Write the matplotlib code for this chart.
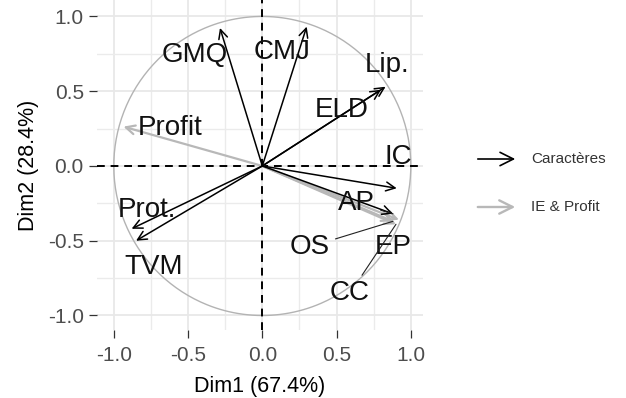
import matplotlib.pyplot as plt
import numpy as np

plt.rcParams['font.family'] = ['Liberation Sans', 'DejaVu Sans']

# variable coordinates on Dim1 / Dim2
names = ['GMQ', 'CMJ', 'Lip.', 'ELD', 'IC', 'AP', 'Prot.', 'TVM',
         'Profit', 'OS', 'EP', 'CC']
dim1 = [-0.285, 0.299, 0.83, 0.80, 0.905, 0.88, -0.88, -0.85,
        -0.935, 0.88, 0.92, 0.90]
dim2 = [0.923, 0.932, 0.53, 0.51, -0.149, -0.32, -0.42, -0.50,
        0.263, -0.37, -0.36, -0.39]
group = ['Caractères'] * 8 + ['IE & Profit'] * 4

# repelled label positions
lab_x = [-0.452, 0.13, 0.838, 0.535, 0.916, 0.636, -0.778, -0.734,
         -0.622, 0.321, 0.883, 0.59]
lab_y = [0.742, 0.765, 0.676, 0.375, 0.062, -0.25, -0.294, -0.674,
         0.252, -0.54, -0.54, -0.852]
with_segment = ['AP', 'OS', 'CC']

colors = {'Caractères': 'black', 'IE & Profit': '#b8b8b8'}
widths = {'Caractères': 1.1, 'IE & Profit': 1.6}

fig = plt.figure(figsize=(6.26, 3.98), dpi=100)
ax = fig.add_axes([97 / 626, 68 / 398, 326 / 626, 330 / 398])
ax.set_xlim(-1.113, 1.082)
ax.set_ylim(-1.097, 1.110)

ax.set_xticks([-1.0, -0.5, 0.0, 0.5, 1.0])
ax.set_yticks([-1.0, -0.5, 0.0, 0.5, 1.0])
ax.set_xticks([-0.75, -0.25, 0.25, 0.75], minor=True)
ax.set_yticks([-0.75, -0.25, 0.25, 0.75], minor=True)
ax.set_xticklabels(['-1.0', '-0.5', '0.0', '0.5', '1.0'])
ax.set_yticklabels(['-1.0', '-0.5', '0.0', '0.5', '1.0'])
ax.grid(which='major', color='#e8e8e8', lw=1.3)
ax.grid(which='minor', color='#ebebeb', lw=1.0)
ax.set_axisbelow(True)
for s in ax.spines.values():
    s.set_visible(False)
ax.tick_params(which='major', length=5.5, width=0.9, color='#333333',
               labelsize=15, labelcolor='#4d4d4d')
ax.tick_params(axis='x', pad=6)
ax.tick_params(axis='y', pad=4)
ax.tick_params(which='minor', length=0)

ax.set_xlabel('Dim1 (67.4%)', fontsize=15.5, labelpad=8)
ax.set_ylabel('Dim2 (28.4%)', fontsize=15.5, labelpad=6)

# correlation circle and axes
t = np.linspace(0, 2 * np.pi, 400)
ax.plot(np.cos(t), np.sin(t), color='#b3b3b3', lw=1.0, zorder=1)
ax.axhline(0, color='black', lw=1.4, ls=(0, (4, 3)), zorder=2)
ax.axvline(0, color='black', lw=1.4, ls=(0, (4, 3)), zorder=2)

order = [i for i in range(len(names)) if group[i] == 'IE & Profit'] + \
        [i for i in range(len(names)) if group[i] == 'Caractères']
for i in order:
    g = group[i]
    ax.annotate('', xy=(dim1[i], dim2[i]), xytext=(0, 0),
                arrowprops=dict(arrowstyle='->,head_length=0.65,head_width=0.32',
                                color=colors[g], lw=widths[g],
                                shrinkA=0, shrinkB=0),
                zorder=3)

for i in range(len(names)):
    if names[i] in with_segment:
        ax.annotate(names[i], xy=(dim1[i], dim2[i]), xytext=(lab_x[i], lab_y[i]),
                    ha='center', va='center', fontsize=20, color='#111111',
                    arrowprops=dict(arrowstyle='-', color='#222222', lw=0.8,
                                    shrinkA=2, shrinkB=0),
                    zorder=4)
    else:
        ax.text(lab_x[i], lab_y[i], names[i], ha='center', va='center',
                fontsize=20, color='#111111', zorder=4)

# legend
leg_y = [159 / 398, 207 / 398]
for k, g in enumerate(['Caractères', 'IE & Profit']):
    yy = 1 - leg_y[k]
    fig.patches.append(plt.matplotlib.patches.FancyArrowPatch(
        (475 / 626, yy), (518 / 626, yy), transform=fig.transFigure,
        arrowstyle='->,head_length=6,head_width=3', mutation_scale=1.6,
        color=colors[g], lw=widths[g] + 0.1))
    fig.text(531 / 626, yy, g, ha='left', va='center', fontsize=11,
             color='#333333')

fig.savefig('out.png', dpi=100)
